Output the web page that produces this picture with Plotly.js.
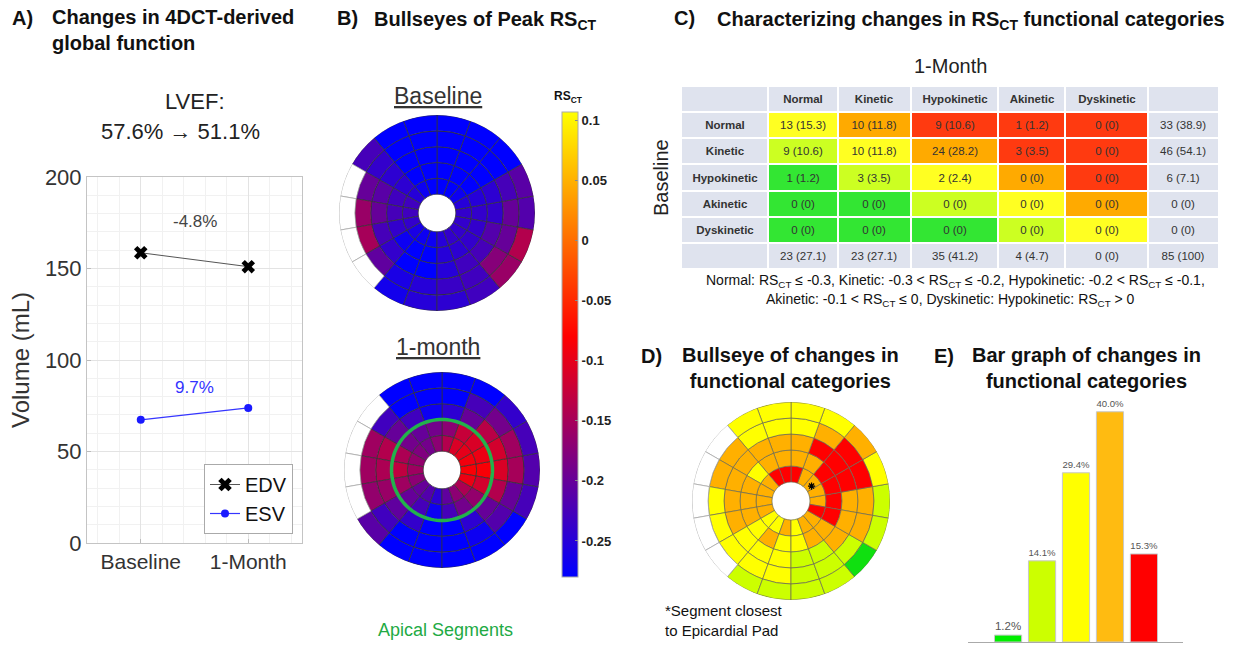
<!DOCTYPE html>
<html><head><meta charset="utf-8">
<script src="https://cdn.plot.ly/plotly-3.0.1.min.js"></script>
<style>html,body{margin:0;padding:0;background:#fff}#chart{width:1240px;height:646px}</style>
</head><body><div id="chart"></div>
<script>
// ---------- Panel A: global function ----------
const timepoints = ["Baseline", "1-Month"];
const edv = [158.6, 151.0];
const esv = [67.3, 73.8];
const edvChangeLabel = "-4.8%";
const esvChangeLabel = "9.7%";
const lvefValues = ["57.6%", "51.1%"];

// ---------- Panel B: peak RS_CT bullseyes (rows = rings, inner -> outer; columns = 18 sectors, 0deg = right, counter-clockwise) ----------
const baselineRS = [
  [-0.24,-0.25,-0.27,-0.28,-0.28,-0.28,-0.27,-0.25,-0.23,-0.23,-0.24,-0.26,-0.27,-0.27,-0.25,-0.24,-0.24,-0.24],
  [-0.24,-0.25,-0.28,-0.28,-0.28,-0.28,-0.28,-0.245,-0.23,-0.225,-0.24,-0.27,-0.28,-0.28,-0.25,-0.245,-0.24,-0.24],
  [-0.24,-0.245,-0.28,-0.28,-0.28,-0.28,-0.28,-0.245,-0.21,-0.2,-0.225,-0.24,-0.28,-0.28,-0.25,-0.23,-0.225,-0.215],
  [-0.2,-0.225,-0.28,-0.28,-0.28,-0.28,-0.28,-0.24,-0.2,-0.16,-0.15,-0.205,-0.26,-0.25,-0.235,-0.23,-0.175,-0.2],
  [-0.215,-0.21,-0.28,-0.28,-0.28,-0.28,-0.28,-0.225,null,null,null,null,-0.265,-0.25,-0.245,-0.23,-0.16,-0.14]
];
const monthRS = [
  [-0.085,-0.09,-0.1,-0.11,-0.14,-0.17,-0.19,-0.18,-0.165,-0.155,-0.17,-0.2,-0.215,-0.245,-0.205,-0.17,-0.145,-0.095],
  [-0.085,-0.095,-0.11,-0.125,-0.17,-0.19,-0.2,-0.19,-0.145,-0.13,-0.155,-0.2,-0.225,-0.27,-0.225,-0.19,-0.165,-0.115],
  [-0.11,-0.115,-0.135,-0.2,-0.245,-0.27,-0.23,-0.2,-0.14,-0.145,-0.16,-0.205,-0.24,-0.28,-0.28,-0.245,-0.2,-0.14],
  [-0.15,-0.155,-0.19,-0.225,-0.28,-0.28,-0.28,-0.23,-0.155,-0.155,-0.165,-0.23,-0.28,-0.28,-0.28,-0.27,-0.215,-0.2],
  [-0.215,-0.225,-0.24,-0.28,-0.28,-0.28,-0.28,null,null,null,null,-0.21,-0.28,-0.28,-0.28,-0.28,-0.28,-0.225]
];
const rsTickVals = [-0.25,-0.2,-0.15,-0.1,-0.05,0,0.05,0.1];
const rsTickText = ["-0.25","-0.2","-0.15","-0.1","-0.05","0","0.05","0.1"];
const apicalRings = 2;

// ---------- Panel C: category transition table ----------
const categories = ["Normal","Kinetic","Hypokinetic","Akinetic","Dyskinetic"];
const transCounts = [[13,10,9,1,0],[9,10,24,3,0],[1,3,2,0,0],[0,0,0,0,0],[0,0,0,0,0]];
const transPct = [[15.3,11.8,10.6,1.2,0],[10.6,11.8,28.2,3.5,0],[1.2,3.5,2.4,0,0],[0,0,0,0,0],[0,0,0,0,0]];
const rowTotals = ["33 (38.9)","46 (54.1)","6 (7.1)","0 (0)","0 (0)"];
const colTotals = ["23 (27.1)","23 (27.1)","35 (41.2)","4 (4.7)","0 (0)"];
const grandTotal = "85 (100)";

// ---------- Panel D: change in category per segment (-2 .. +2, null = excluded) ----------
const changeGrid = [
  [1,1,1,1,2,2,2,1,1,1,1,0,0,1,0,1,1,2],
  [2,2,2,1,1,1,1,0,1,1,1,0,1,0,0,1,1,2],
  [1,2,2,2,1,1,1,1,1,1,1,0,0,0,-1,-1,1,1],
  [1,2,2,1,0,0,0,1,1,0,0,0,0,0,-1,-1,-1,1],
  [-1,0,1,0,0,0,0,null,null,null,null,null,-1,-1,-1,-1,-2,-1]
];
const epicardialSegment = {ring: 0, sector: 2};

// ---------- Panel E: distribution of changes ----------
const changeLevels = [-2,-1,0,1,2];
const changePct = [1.2,14.1,29.4,40.0,15.3];

// ---------- styling ----------
const W = 1240, H = 646;
const F = 'Liberation Sans, Arial, Helvetica, sans-serif';
const changeColors = {"-2":"#10e010","-1":"#ccff00","0":"#ffff00","1":"#ffb000","2":"#ff0000"};
const tableColors = ["#33e633","#ccff22","#ffff22","#ffaa00","#ff3a10","#dfe3ee"]; // codes -2..2, then header grey
const barColors = {"-2":"#00ee00","-1":"#ccff00","0":"#ffff00","1":"#ffbb11","2":"#ff0000"};
const tableColWidths = [87, 69, 73, 87, 67, 82, 71];
const HOLE = 19, RING = 16, NS = 18, SECT = 360 / NS, RMAX = HOLE + 5 * RING;
const CMIN = -0.28, CMAX = 0.107;

const px = x => x / W, py = y => 1 - y / H;

function segments(grid) {
  const on = {theta: [], base: [], r: [], v: []}, off = {theta: [], base: [], r: []};
  grid.forEach((ring, j) => ring.forEach((v, k) => {
    const t = k * SECT, b = HOLE + j * RING;
    if (v === null) { off.theta.push(t); off.base.push(b); off.r.push(RING); }
    else { on.theta.push(t); on.base.push(b); on.r.push(RING); on.v.push(v); }
  }));
  return [on, off];
}
function bullseyeTraces(grid, subplot, colorFn, lineColor, useAxis) {
  const [on, off] = segments(grid);
  const marker = {line: {color: lineColor, width: 0.7}};
  if (useAxis) { marker.color = on.v; marker.coloraxis = 'coloraxis'; }
  else { marker.color = on.v.map(colorFn); }
  return [
    {type: 'barpolar', subplot, theta: on.theta, base: on.base, r: on.r, width: SECT,
     marker, showlegend: false, hoverinfo: 'skip'},
    {type: 'barpolar', subplot, theta: off.theta, base: off.base, r: off.r, width: SECT,
     marker: {color: '#ffffff', line: {color: '#aaaaaa', width: 0.8}}, showlegend: false, hoverinfo: 'skip'}
  ];
}

const traces = [];
// Panel A
traces.push({type: 'scatter', mode: 'lines+markers', name: 'EDV', x: timepoints.map((_, i) => i + 1), y: edv,
  line: {color: '#555', width: 1}, marker: {symbol: 'x', size: 12, color: '#000'}, xaxis: 'x', yaxis: 'y'});
traces.push({type: 'scatter', mode: 'lines+markers', name: 'ESV', x: timepoints.map((_, i) => i + 1), y: esv,
  line: {color: '#3535ff', width: 1.2}, marker: {symbol: 'circle', size: 8, color: '#1a1aff'}, xaxis: 'x', yaxis: 'y'});

// Panel B
traces.push(...bullseyeTraces(baselineRS, 'polar', null, '#333', true));
traces.push(...bullseyeTraces(monthRS, 'polar2', null, '#333', true));
const circTheta = []; for (let a = 0; a <= 360; a += 3) circTheta.push(a);
traces.push({type: 'scatterpolar', subplot: 'polar2', mode: 'lines', theta: circTheta,
  r: circTheta.map(() => HOLE + apicalRings * RING), line: {color: '#22b24c', width: 3.5},
  showlegend: false, hoverinfo: 'skip'});

// Panel D
traces.push(...bullseyeTraces(changeGrid, 'polar3', v => changeColors[String(v)], '#6b6b55', false));
traces.push({type: 'scatterpolar', subplot: 'polar3', mode: 'markers',
  theta: [epicardialSegment.sector * SECT - 4], r: [HOLE + RING * (epicardialSegment.ring + 0.4)],
  marker: {symbol: 'asterisk-open', size: 6, color: '#000', line: {color: '#000', width: 1.2}}, showlegend: false, hoverinfo: 'skip'});

// Panel C table, drawn as a grid of coloured cells
const fmt = (c, p) => `${c} (${p === 0 ? '0' : p.toFixed(1)})`;
const GREY = 3;
const tblZ = [], tblText = [];
tblZ.push(tableColWidths.map(() => GREY));
tblText.push([''].concat(categories.map(c => `<b>${c}</b>`)).concat(['']));
categories.forEach((rowCat, row) => {
  const z = [GREY], t = [`<b>${rowCat}</b>`];
  categories.forEach((_, col) => {
    z.push(Math.max(-2, Math.min(2, col - row)));
    t.push(fmt(transCounts[row][col], transPct[row][col]));
  });
  z.push(GREY); t.push(rowTotals[row]);
  tblZ.push(z); tblText.push(t);
});
tblZ.push(tableColWidths.map(() => GREY));
tblText.push([''].concat(colTotals).concat([grandTotal]));
const colEdges = [0]; tableColWidths.forEach(w => colEdges.push(colEdges[colEdges.length - 1] + w));
const rowEdges = tblZ.map((_, i) => i).concat([tblZ.length]);
const tableScale = tableColors.map((c, i) => [[i / tableColors.length, c], [(i + 1) / tableColors.length, c]]).flat();
traces.push({type: 'heatmap', x: colEdges, y: rowEdges, z: tblZ, text: tblText, texttemplate: '%{text}',
  textfont: {family: F, size: 11.5, color: '#333'}, zmin: -2.5, zmax: 3.5, colorscale: tableScale, showscale: false,
  xgap: 2, ygap: 2, xaxis: 'x3', yaxis: 'y3', hoverinfo: 'skip'});

// Panel E bars
traces.push({type: 'bar', x: changeLevels, y: changePct, width: 0.8, xaxis: 'x2', yaxis: 'y2',
  marker: {color: changeLevels.map(v => barColors[String(v)]), line: {color: '#c8c8c8', width: 1}},
  text: changePct.map(v => v.toFixed(1) + '%'), textposition: 'outside', cliponaxis: false,
  textfont: {family: F, size: 11.5, color: '#555'}, showlegend: false, hoverinfo: 'skip'});

function polarLayout(cx, cy, R) {
  return {domain: {x: [px(cx - R), px(cx + R)], y: [py(cy + R), py(cy - R)]}, bgcolor: 'rgba(0,0,0,0)',
    radialaxis: {visible: false, range: [0, RMAX]},
    angularaxis: {visible: false, direction: 'counterclockwise', rotation: 0}};
}

function ann(text, x, y, o) {
  return Object.assign({text, x: px(x), y: py(y), xref: 'paper', yref: 'paper', showarrow: false,
    xanchor: 'left', yanchor: 'middle', font: {family: F, size: 20, color: '#111'}}, o || {});
}

const annotations = [
  ann('<b>A)</b>', 10, 18),
  ann('<b>Changes in 4DCT-derived<br>global function</b>', 50, 30, {align: 'left'}),
  ann('LVEF:', 195, 101, {xanchor: 'center', font: {family: F, size: 22, color: '#222'}}),
  ann(`${lvefValues[0]} → ${lvefValues[1]}`, 180, 131, {xanchor: 'center', font: {family: F, size: 22, color: '#222'}}),
  {text: edvChangeLabel, x: 1.5, y: 175.5, xref: 'x', yref: 'y', showarrow: false, font: {family: F, size: 17, color: '#444'}},
  {text: esvChangeLabel, x: 1.5, y: 85, xref: 'x', yref: 'y', showarrow: false, font: {family: F, size: 17, color: '#3333ff'}},
  ann('<b>B)</b>', 335, 18),
  ann('<b>Bullseyes of Peak RS<sub>CT</sub></b>', 372, 20),
  ann('<u>Baseline</u>', 438, 96, {xanchor: 'center', font: {family: F, size: 23, color: '#333'}}),
  ann('<u>1-month</u>', 438, 347, {xanchor: 'center', font: {family: F, size: 23, color: '#333'}}),
  ann('<b>RS<sub>CT</sub></b>', 568, 97, {xanchor: 'center', font: {family: F, size: 12, color: '#111'}}),
  ann('Apical Segments', 445, 630, {xanchor: 'center', font: {family: F, size: 18, color: '#22aa44'}}),
  ann('<b>C)</b>', 672, 18),
  ann('<b>Characterizing changes in RS<sub>CT</sub> functional categories</b>', 715, 20),
  ann('1-Month', 950, 66, {xanchor: 'center', font: {family: F, size: 20, color: '#222'}}),
  ann('Baseline', 661, 178, {xanchor: 'center', textangle: -90, font: {family: F, size: 20, color: '#222'}}),
  ann('Normal: RS<sub>CT</sub> ≤ -0.3, Kinetic: -0.3 &lt; RS<sub>CT</sub> ≤ -0.2, Hypokinetic: -0.2 &lt; RS<sub>CT</sub> ≤ -0.1,', 955, 281,
    {xanchor: 'center', font: {family: F, size: 14, color: '#111'}}),
  ann('Akinetic: -0.1 &lt; RS<sub>CT</sub> ≤ 0, Dyskinetic: Hypokinetic: RS<sub>CT</sub> > 0', 950, 300,
    {xanchor: 'center', font: {family: F, size: 14, color: '#111'}}),
  ann('<b>D)</b>', 639, 356),
  ann('<b>Bullseye of changes in<br>functional categories</b>', 790, 368, {xanchor: 'center', align: 'center'}),
  ann('*Segment closest<br>to Epicardial Pad', 663, 620, {align: 'left', font: {family: F, size: 15, color: '#111'}}),
  ann('<b>E)</b>', 932, 356),
  ann('<b>Bar graph of changes in<br>functional categories</b>', 1086, 368, {xanchor: 'center', align: 'center'})
];

const colorscale = [[0, 'rgb(0,0,255)'], [(-0.08 - CMIN) / (CMAX - CMIN), 'rgb(255,0,0)'], [1, 'rgb(255,255,0)']];

const layout = {
  width: W, height: 646, margin: {l: 0, r: 0, t: 0, b: 0}, paper_bgcolor: '#fff', plot_bgcolor: '#fff',
  font: {family: F},
  xaxis: {domain: [px(87), px(302)], range: [0.5, 2.5], tickvals: timepoints.map((_, i) => i + 1), ticktext: timepoints,
    showgrid: true, gridcolor: '#e3e3e3', zeroline: false, showline: true, mirror: true, linecolor: '#c4c4c4',
    ticks: 'inside', ticklen: 4, tickcolor: '#bbb', tickfont: {family: F, size: 21, color: '#333'},
    minor: {dtick: 0.2, tick0: 0, showgrid: true, gridcolor: '#f1f1f1'}},
  yaxis: {domain: [py(543), py(177)], range: [0, 200], dtick: 50, showgrid: true, gridcolor: '#e3e3e3', zeroline: false,
    showline: true, mirror: true, linecolor: '#c4c4c4', ticks: 'inside', ticklen: 4, tickcolor: '#bbb',
    tickfont: {family: F, size: 22, color: '#333'}, minor: {dtick: 10, showgrid: true, gridcolor: '#f1f1f1'},
    title: {text: 'Volume (mL)', font: {family: F, size: 24, color: '#333'}, standoff: 8}},
  xaxis2: {domain: [px(968), px(1183)], anchor: 'y2', range: [-3.18, 3.15], showgrid: false, zeroline: false,
    showline: true, linecolor: '#aaa', showticklabels: false, ticks: ''},
  yaxis2: {domain: [py(642), py(383)], anchor: 'x2', range: [0, 45], visible: false},
  xaxis3: {domain: [px(681), px(1219)], anchor: 'y3', range: [0, colEdges[colEdges.length - 1]], visible: false},
  yaxis3: {domain: [py(269), py(86)], anchor: 'x3', range: [rowEdges.length - 1, 0], visible: false},
  polar: polarLayout(437, 213, 98),
  polar2: polarLayout(442, 470, 98),
  polar3: polarLayout(791, 501, 99),
  coloraxis: {cmin: CMIN, cmax: CMAX, colorscale,
    colorbar: {x: px(562), xanchor: 'left', y: py(344.5), yanchor: 'middle', len: 465 / H, lenmode: 'fraction',
      thickness: 16, thicknessmode: 'pixels', xpad: 0, ypad: 0, outlinecolor: '#aaa', outlinewidth: 1,
      tickvals: rsTickVals, ticktext: rsTickText.map(t => `<b>${t}</b>`), ticks: 'inside', ticklen: 3, tickcolor: '#888',
      tickfont: {family: F, size: 13, color: '#222'}}},
  showlegend: true,
  legend: {x: px(293), xanchor: 'right', y: py(534), yanchor: 'bottom', bgcolor: '#fff', bordercolor: '#aaa', borderwidth: 1,
    font: {family: F, size: 20, color: '#111'}, itemwidth: 30, tracegroupgap: 0},
  annotations
};

Plotly.newPlot('chart', traces, layout, {staticPlot: true, displayModeBar: false});
</script></body></html>
